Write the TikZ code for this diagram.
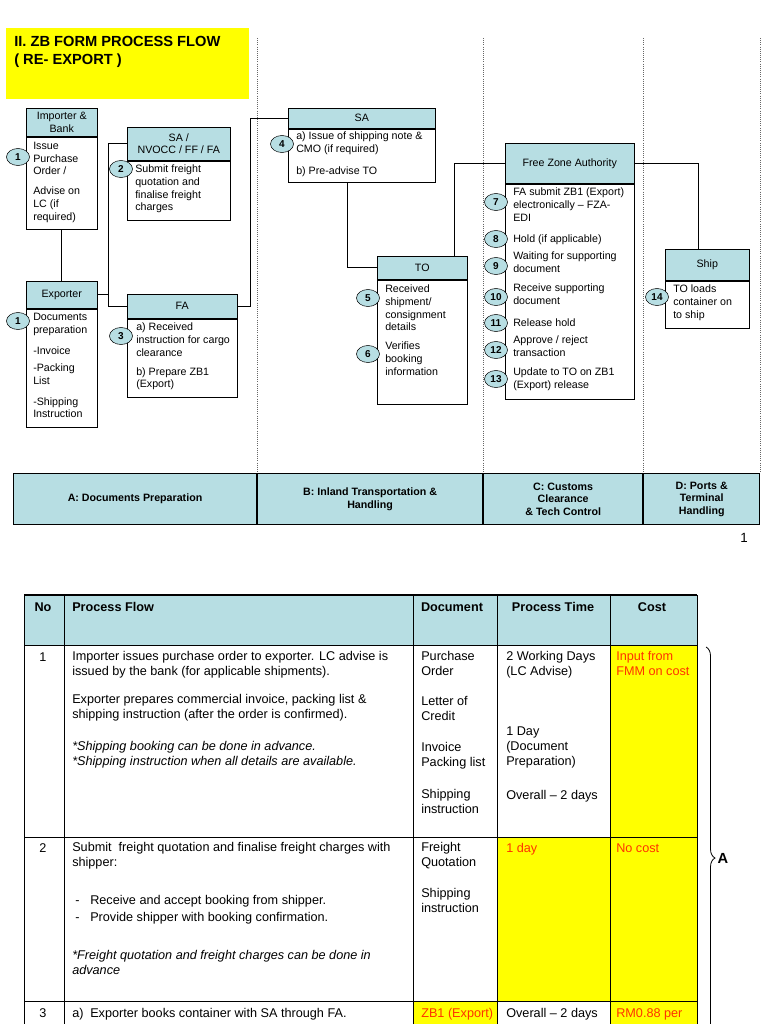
\documentclass[tikz,border=0pt]{standalone}
\usepackage{fontspec}
\setmainfont{Liberation Sans}
\usetikzlibrary{shapes.geometric,decorations.pathreplacing}
\definecolor{hdrblue}{RGB}{183,222,227}
\definecolor{hiyellow}{RGB}{255,255,0}
\definecolor{costred}{RGB}{255,51,0}
\newdimen\px \px=0.75pt
\newcommand\boxfont{\fontsize{8}{9.4}\selectfont}
\newcommand\tabfont{\fontsize{9.5}{11.25}\selectfont}
\begin{document}
\begin{tikzpicture}[x=0.75pt,y=0.75pt,yscale=-1,xscale=1,
    hdr/.style={draw, fill=hdrblue, anchor=north west, inner sep=1pt, align=center, font=\boxfont},
    bdy/.style={draw, fill=white, anchor=north west, inner sep=0pt},
    txt/.style={anchor=north west, inner sep=0pt, align=left, font=\boxfont, execute at begin node=\strut},
    num/.style={ellipse, draw, fill=hdrblue, minimum width=23\px, minimum height=17\px, inner sep=0pt, font=\bfseries\fontsize{7.5}{8}\selectfont},
    link/.style={line width=0.6pt},
    lane/.style={black!60, densely dotted, line width=0.6pt},
    band/.style={draw, line width=0.8pt, fill=hdrblue, anchor=north west, align=center, minimum height=51\px, font=\bfseries\fontsize{8}{9.4}\selectfont},
    grid/.style={line width=0.7pt},
    cell/.style={anchor=north west, inner sep=0pt, align=left, font=\tabfont, execute at begin node=\strut},
    thead/.style={anchor=north, inner sep=0pt, font=\bfseries\tabfont, execute at begin node=\strut},
    red/.style={text=costred}
  ]
\useasboundingbox (0,0) rectangle (768,1024);

\node[fill=hiyellow, anchor=north west, minimum width=243\px, minimum height=71\px] (titlebox) at (6,28) {};
\node[anchor=north west, inner sep=0pt, align=left, font=\bfseries\fontsize{11}{13.5}\selectfont] (title) at (14,36) {II. ZB FORM PROCESS FLOW\\( RE- EXPORT )};

\node[band, minimum width=243\px] (bandA) at (13,473) {A: Documents Preparation};
\node[band, minimum width=225\px] (bandB) at (bandA.north east) {B: Inland Transportation \&\\Handling};
\node[band, minimum width=159\px] (bandC) at (bandB.north east) {C: Customs\\Clearance\\\& Tech Control};
\node[band, minimum width=116\px] (bandD) at (bandC.north east) {D: Ports \&\\Terminal\\Handling};
\foreach \b in {bandA,bandB,bandC,bandD}
  \draw[lane] (\b.north east |- 0,38) -- (\b.north east);

\node[hdr, minimum width=71\px, minimum height=28\px] (impH) at (26,108) {Importer \&\\Bank};
\node[bdy, minimum width=71\px, minimum height=92\px] (impB) at (impH.south west) {};
\node[txt] (impT1) at (33,142) {Issue\\Purchase\\Order /};
\node[txt] (impT2) at (33,187) {Advise on\\LC (if\\required)};

\node[hdr, minimum width=103\px, minimum height=33\px] (nvoH) at (127,127) {SA /\\NVOCC / FF / FA};
\node[bdy, minimum width=103\px, minimum height=59\px] (nvoB) at (nvoH.south west) {};
\node[txt] (nvoT) at (135,165) {Submit freight\\quotation and\\finalise freight\\charges};

\node[hdr, minimum width=71\px, minimum height=27\px] (expH) at (26,281) {Exporter};
\node[bdy, minimum width=71\px, minimum height=118\px] (expB) at (expH.south west) {};
\node[txt] (expT1) at (33,313) {Documents\\preparation};
\node[txt] (expT2) at (33,345) {-Invoice};
\node[txt] (expT3) at (33,364) {-Packing\\List};
\node[txt] (expT4) at (33,397) {-Shipping\\Instruction};

\node[hdr, minimum width=110\px, minimum height=24\px] (faH) at (127,294) {FA};
\node[bdy, minimum width=110\px, minimum height=78\px] (faB) at (faH.south west) {};
\node[txt] (faT1) at (136,323) {a) Received\\instruction for cargo\\clearance};
\node[txt] (faT2) at (136,367) {b) Prepare ZB1\\(Export)};

\node[hdr, minimum width=147\px, minimum height=20\px] (saH) at (288,108) {SA};
\node[bdy, minimum width=147\px, minimum height=53\px] (saB) at (saH.south west) {};
\node[txt] (saT1) at (296,132) {a) Issue of shipping note \&\\CMO (if required)};
\node[txt] (saT2) at (296,165) {b) Pre-advise TO};

\node[hdr, minimum width=90\px, minimum height=23\px] (toH) at (377,256) {TO};
\node[bdy, minimum width=90\px, minimum height=124\px] (toB) at (toH.south west) {};
\node[txt] (toT1) at (385,285) {Received\\shipment/\\consignment\\details};
\node[txt] (toT2) at (385,342) {Verifies\\booking\\information};

\node[hdr, minimum width=129\px, minimum height=40\px] (fzaH) at (505,143) {Free Zone Authority};
\node[bdy, minimum width=129\px, minimum height=215\px] (fzaB) at (fzaH.south west) {};
\node[txt] (fzaT1) at (513,188) {FA submit ZB1 (Export)\\electronically – FZA-\\EDI};
\node[txt] (fzaT2) at (513,233) {Hold (if applicable)};
\node[txt] (fzaT3) at (513,252) {Waiting for supporting\\document};
\node[txt] (fzaT4) at (513,284) {Receive supporting\\document};
\node[txt] (fzaT5) at (513,317) {Release hold};
\node[txt] (fzaT6) at (513,336) {Approve / reject\\transaction};
\node[txt] (fzaT7) at (513,368) {Update to TO on ZB1\\(Export) release};

\node[hdr, minimum width=84\px, minimum height=31\px] (shipH) at (665,249) {Ship};
\node[bdy, minimum width=84\px, minimum height=47\px] (shipB) at (shipH.south west) {};
\node[txt] (shipT) at (673,285) {TO loads\\container on\\to ship};

\coordinate (spineA) at (108,0);
\coordinate (riseB) at (250,0);
\coordinate (dropC) at (347,0);
\coordinate (riseD) at (454,0);
\coordinate (dropE) at (698,0);
\draw[link] (impB.south) -- (impB.south |- expH.north);
\draw[link] (nvoH.west) -- (nvoH.west -| spineA) -- (faH.west -| spineA) -- (faH.west);
\draw[link] (expH.east) -- (expH.east -| spineA);
\draw[link] (faH.east) -- (faH.east -| riseB) -- (saH.west -| riseB) -- (saH.west);
\draw[link] (saB.south -| dropC) -- (toH.west -| dropC) -- (toH.west);
\draw[link] (toH.north -| riseD) -- (fzaH.west -| riseD) -- (fzaH.west);
\draw[link] (fzaH.east) -- (fzaH.east -| dropE) -- (shipH.north -| dropE);

\node[num] (n1a) at (18,157) {1};
\node[num] (n2) at (121,169) {2};
\node[num] (n1b) at (18,321) {1};
\node[num] (n3) at (121,336) {3};
\node[num] (n4) at (282,144) {4};
\node[num] (n5) at (368,298) {5};
\node[num] (n6) at (368,354) {6};
\node[num] (n7) at (496,202) {7};
\node[num] (n8) at (496,239) {8};
\node[num] (n9) at (496,266) {9};
\node[num] (n10) at (496,297) {10};
\node[num] (n11) at (496,323) {11};
\node[num] (n12) at (496,350) {12};
\node[num] (n13) at (496,379) {13};
\node[num] (n14) at (657,297) {14};

\node[font=\fontsize{10}{12}\selectfont] (pageno) at (744,538) {1};

\fill[hdrblue] (24,595) rectangle (697,645);
\fill[hiyellow] (610,645) rectangle (697,837);
\fill[hiyellow] (497,837) rectangle (697,1001);
\fill[hiyellow] (413,1001) rectangle (497,1100);
\fill[hiyellow] (610,1001) rectangle (697,1100);
\foreach \gx in {24,64,413,497,610,697}
  \draw[grid] (\gx,595) -- (\gx,1100);
\foreach \gy in {645,837,1001}
  \draw[grid] (24,\gy) -- (697,\gy);
\draw[line width=1.4pt] (24,595) -- (697,595);

\node[thead] (hNo) at (43,601) {No};
\node[thead, anchor=north west] (hFlow) at (72,601) {Process Flow};
\node[thead] (hDoc) at (452,601) {Document};
\node[thead] (hTime) at (553,601) {Process Time};
\node[thead] (hCost) at (652,601) {Cost};

\node[cell, anchor=north] (r1No) at (43,651) {1};
\node[cell] (r1F1) at (72,651) {Importer issues purchase order to exporter. LC advise is\\issued by the bank (for applicable shipments).};
\node[cell] (r1F2) at (72,694) {Exporter prepares commercial invoice, packing list \&\\shipping instruction (after the order is confirmed).};
\node[cell, font=\tabfont\itshape] (r1F3) at (72,741) {*Shipping booking can be done in advance.\\*Shipping instruction when all details are available.};
\node[cell] (r1D1) at (421,651) {Purchase\\Order};
\node[cell] (r1D2) at (421,696) {Letter of\\Credit};
\node[cell] (r1D3) at (421,742) {Invoice\\Packing list};
\node[cell] (r1D4) at (421,789) {Shipping\\instruction};
\node[cell] (r1T1) at (506,651) {2 Working Days\\(LC Advise)};
\node[cell] (r1T2) at (506,727) {1 Day\\(Document\\Preparation)};
\node[cell] (r1T3) at (506,789) {Overall – 2 days};
\node[cell, red] (r1C) at (616,651) {Input from\\FMM on cost};

\node[cell, anchor=north] (r2No) at (43,842) {2};
\node[cell] (r2F1) at (72,842) {Submit~~freight quotation and finalise freight charges with\\shipper:};
\node[cell] (r2B1) at (75,894) {-};
\node[cell] (r2F2) at (90,894) {Receive and accept booking from shipper.};
\node[cell] (r2B2) at (75,911) {-};
\node[cell] (r2F3) at (90,911) {Provide shipper with booking confirmation.};
\node[cell, font=\tabfont\itshape] (r2F4) at (72,950) {*Freight quotation and freight charges can be done in\\advance};
\node[cell] (r2D1) at (421,842) {Freight\\Quotation};
\node[cell] (r2D2) at (421,888) {Shipping\\instruction};
\node[cell, red] (r2T) at (506,842) {1 day};
\node[cell, red] (r2C) at (616,842) {No cost};

\node[cell, anchor=north] (r3No) at (43,1007) {3};
\node[cell] (r3A) at (72,1007) {a)};
\node[cell] (r3F) at (90,1007) {Exporter books container with SA through FA.};
\node[cell, red] (r3D) at (421,1007) {ZB1 (Export)};
\node[cell] (r3T) at (506,1007) {Overall – 2 days};
\node[cell, red] (r3C) at (616,1007) {RM0.88 per};

\draw[line width=0.6pt, decorate, decoration={brace, amplitude=9\px}] (706,647) -- (706,1069);
\node[font=\bfseries\fontsize{11}{13}\selectfont] (braceA) at (723,858) {A};
\end{tikzpicture}
\end{document}
